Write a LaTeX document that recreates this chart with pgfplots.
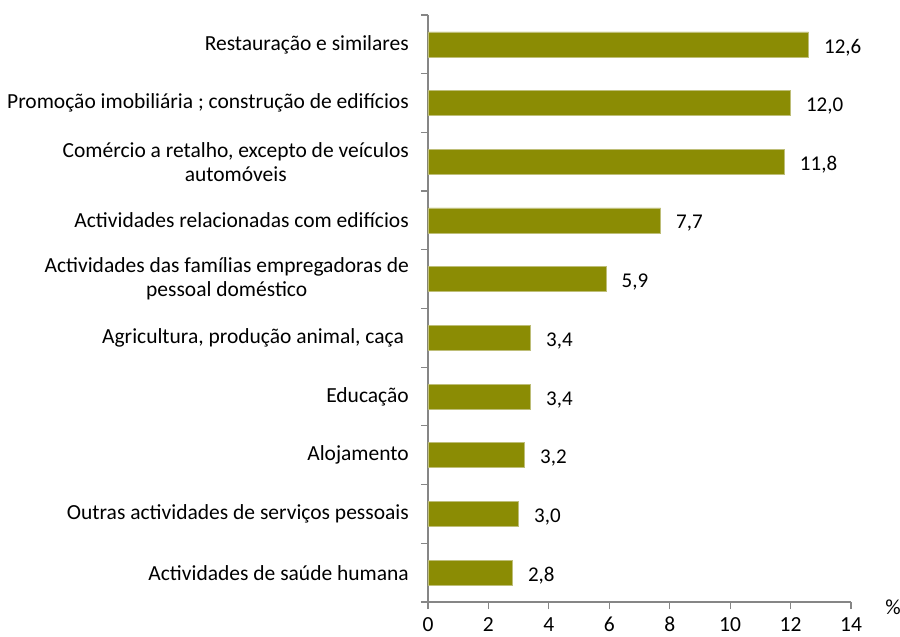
\documentclass[border=0pt]{standalone}
\usepackage{fontspec}
\setmainfont{Carlito}
\usepackage{pgfplots}
\pgfplotsset{compat=1.18}
\definecolor{barclr}{RGB}{139,140,4}
\definecolor{baredge}{RGB}{190,190,120}
\definecolor{axisclr}{RGB}{134,134,134}

\begin{document}
\fontsize{21.5bp}{24bp}\selectfont
\begin{tikzpicture}
\useasboundingbox (-428bp,-35bp) rectangle (472bp,602bp);
\begin{axis}[
  at={(0,0)}, anchor=south west,
  scale only axis,
  width=423bp, height=587bp,
  xbar,
  bar width=25bp,
  xmin=0, xmax=14,
  ymin=-0.5, ymax=9.5,
  xtick={0,2,...,14},
  ytick={-0.5,0.5,...,9.5},
  yticklabels={},
  extra y ticks={0,...,9},
  extra y tick labels={
    {Actividades de saúde humana},
    {Outras actividades de serviços pessoais},
    {Alojamento},
    {Educação},
    {Agricultura, produção animal, caça\ },
    {Actividades das famílias empregadoras de\\pessoal doméstico},
    {Actividades relacionadas com edifícios},
    {Comércio a retalho, excepto de veículos\\automóveis},
    {Promoção imobiliária ; construção de edifícios},
    {Restauração e similares}},
  extra y tick style={major tick length=0pt,
    yticklabel style={align=center, inner sep=0pt, xshift=-19bp, font=\fontsize{21.5bp}{24bp}\selectfont}},
  axis lines*=left,
  axis line style={draw=axisclr, line width=1.2pt},
  tick style={draw=axisclr, line width=1.2pt},
  tick align=outside,
  major tick length=7bp,
  xticklabel style={inner sep=0pt, yshift=-8bp, font=\fontsize{21.5bp}{24bp}\selectfont},
  /pgf/number format/assume math mode=true,
  nodes near coords,
  nodes near coords style={anchor=west, xshift=8bp, yshift=-3bp, font=\fontsize{21bp}{24bp}\selectfont,
    /pgf/number format/.cd, fixed, fixed zerofill, precision=1, use comma},
  clip=false,
]
\addplot[fill=barclr, draw=baredge, line width=0.6pt] coordinates {
  (2.8,0) (3.0,1) (3.2,2) (3.4,3) (3.4,4) (5.9,5) (7.7,6) (11.8,7) (12.0,8) (12.6,9)
};
\node[font=\fontsize{21.5bp}{24bp}\selectfont] at (rel axis cs:1,0) [xshift=42bp, yshift=-5bp] {\%};
\end{axis}
\end{tikzpicture}
\end{document}
